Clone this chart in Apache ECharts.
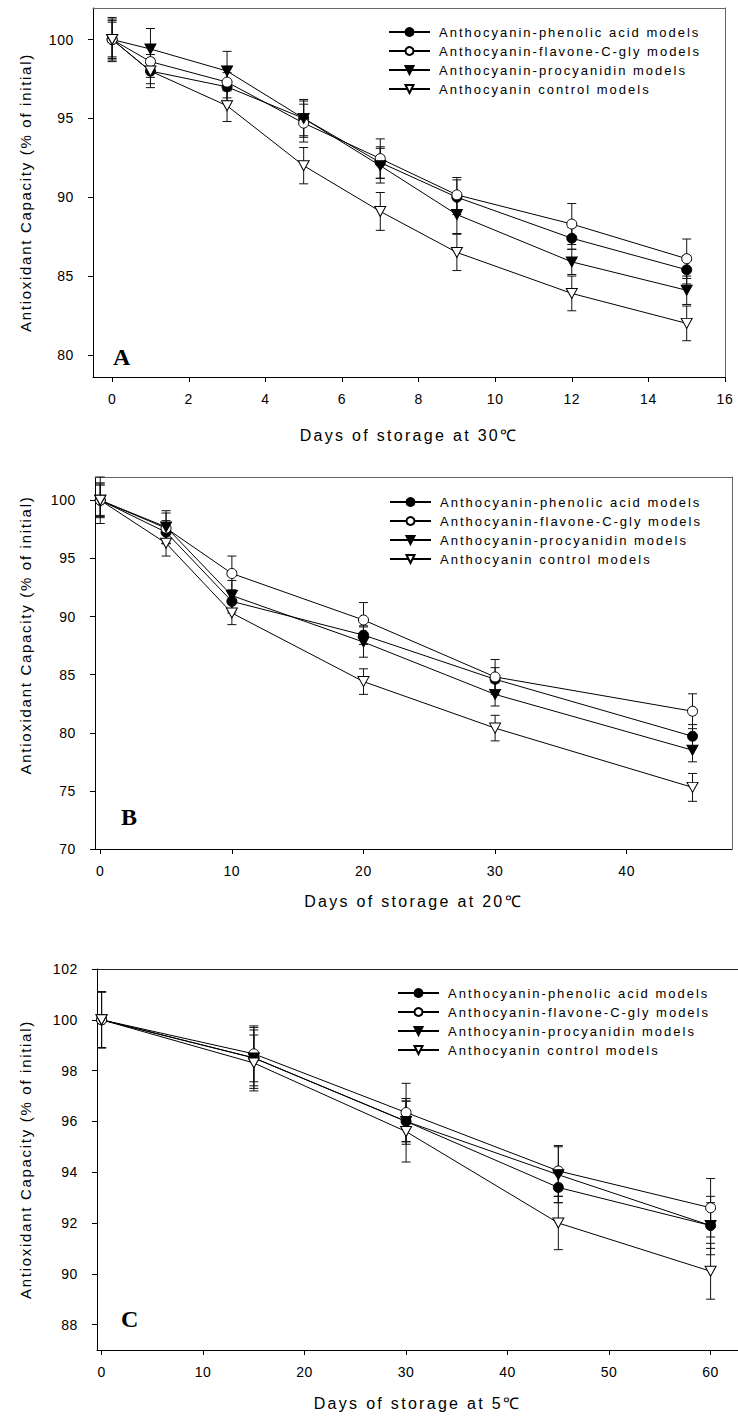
<!DOCTYPE html>
<html><head><meta charset="utf-8">
<script src="https://cdn.jsdelivr.net/npm/echarts@6/dist/echarts.min.js"></script>
<style>
html,body{margin:0;padding:0;background:#fff}
#c{width:738px;height:1416px}
#c text[style*="13px"]{letter-spacing:2px}
#c text[style*="14px"]{letter-spacing:0.6px}
#c text[style*="15px"]{letter-spacing:1.7px}
#c text[style*="16px"]{letter-spacing:2.3px}
</style></head><body><div id="c"></div>
<script>
// ---------- data ----------
const seriesNames = ['Anthocyanin-phenolic acid models','Anthocyanin-flavone-C-gly models','Anthocyanin-procyanidin models','Anthocyanin control models'];
const panelLetters = ['A','B','C'];
const xTitles = ['Days of storage at 30\u2103','Days of storage at 20\u2103','Days of storage at 5\u2103'];
const yTitle = 'Antioxidant Capacity (% of initial)';

// Panel A (30 C)
const daysA = [0,1,3,5,7,9,12,15];
const phenolicA    = [100,98.0,97.0,95.0,92.2,90.0,87.4,85.4];
const flavoneA     = [100,98.6,97.3,94.7,92.45,90.15,88.3,86.1];
const procyanidinA = [100,99.4,98.0,95.0,92.0,88.9,85.9,84.1];
const controlA     = [100,98.0,95.8,92.0,89.1,86.5,83.9,82.0];
const errPhenolicA    = [1.2,0.8,0.9,1.1,1.0,1.1,0.7,0.9];
const errFlavoneA     = [1.3,1.0,1.0,1.2,1.25,1.1,1.3,1.25];
const errProcyanidinA = [1.4,1.3,1.25,1.2,1.1,1.2,0.8,0.9];
const errControlA     = [1.1,1.05,1.0,1.15,1.2,1.15,1.1,1.1];
const xTicksA = [0,2,4,6,8,10,12,14,16];
const yTicksA = [80,85,90,95,100];

// Panel B (20 C)
const daysB = [0,5,10,20,30,45];
const phenolicB    = [100,97.25,91.3,88.4,84.6,79.7];
const flavoneB     = [100,97.6,93.7,89.7,84.8,81.85];
const procyanidinB = [100,97.7,91.8,87.8,83.3,78.5];
const controlB     = [100,96.3,90.3,84.4,80.4,75.3];
const errPhenolicB    = [1.4,1.0,1.0,0.8,1.0,1.0];
const errFlavoneB     = [1.3,1.3,1.5,1.5,1.5,1.5];
const errProcyanidinB = [1.5,1.4,1.3,1.3,1.0,1.0];
const errControlB     = [2.0,1.1,1.0,1.1,1.1,1.2];
const xTicksB = [0,10,20,30,40];
const yTicksB = [70,75,80,85,90,95,100];

// Panel C (5 C)
const daysC = [0,15,30,45,60];
const phenolicC    = [100,98.5,96.0,93.4,91.9];
const flavoneC     = [100,98.66,96.35,94.05,92.6];
const procyanidinC = [100,98.5,96.0,93.9,91.9];
const controlC     = [100,98.3,95.6,92.0,90.1];
const errPhenolicC    = [1.1,1.1,0.8,0.6,0.9];
const errFlavoneC     = [1.1,1.1,1.15,1.0,1.15];
const errProcyanidinC = [1.1,1.2,0.9,1.1,1.15];
const errControlC     = [1.1,1.1,1.2,1.05,1.1];
const xTicksC = [0,10,20,30,40,50,60];
const yTicksC = [88,90,92,94,96,98,100,102];

// ---------- layout / style ----------
const panels = [
  {days:daysA, vals:[phenolicA,flavoneA,procyanidinA,controlA], errs:[errPhenolicA,errFlavoneA,errProcyanidinA,errControlA],
   xTicks:xTicksA, yTicks:yTicksA, xMin:-0.5, xMax:16, yMin:78.6, yMax:102,
   grid:{left:93, top:8, width:632, height:369}, rightFrame:true, frameColor:'#666',
   legend:{left:388, top:25}, letter:{x:113, y:357}, xNameGap:50, yNameGap:60, yNamePad:0},
  {days:daysB, vals:[phenolicB,flavoneB,procyanidinB,controlB], errs:[errPhenolicB,errFlavoneB,errProcyanidinB,errControlB],
   xTicks:xTicksB, yTicks:yTicksB, xMin:-0.4, xMax:48, yMin:70, yMax:102,
   grid:{left:95, top:477, width:637, height:372}, rightFrame:true, frameColor:'#666',
   legend:{left:389, top:495}, letter:{x:121, y:817}, xNameGap:44, yNameGap:62, yNamePad:56},
  {days:daysC, vals:[phenolicC,flavoneC,procyanidinC,controlC], errs:[errPhenolicC,errFlavoneC,errProcyanidinC,errControlC],
   xTicks:xTicksC, yTicks:yTicksC, xMin:-0.45, xMax:62.7, yMin:87, yMax:102,
   grid:{left:97, top:969, width:641, height:381}, rightFrame:false, frameColor:'#222',
   legend:{left:397, top:986}, letter:{x:121, y:1319}, xNameGap:45, yNameGap:64, yNamePad:0}
];

const symbols = [
  {symbol:'circle', rotate:0, fill:'#000', size:10},
  {symbol:'circle', rotate:0, fill:'#fff', size:10},
  {symbol:'triangle', rotate:180, fill:'#000', size:[11,10]},
  {symbol:'triangle', rotate:180, fill:'#fff', size:[11,10]}
];

const FONT = 'Liberation Sans, Arial, Helvetica, sans-serif';

function errRender(params, api){
  const x = api.value(0), lo = api.value(1), hi = api.value(2);
  const p1 = api.coord([x, hi]), p2 = api.coord([x, lo]);
  const w = 4.5;
  const style = {stroke:'#111', lineWidth:1, fill:null};
  return {type:'group', children:[
    {type:'line', shape:{x1:p1[0],y1:p1[1],x2:p2[0],y2:p2[1]}, style:style},
    {type:'line', shape:{x1:p1[0]-w,y1:p1[1],x2:p1[0]+w,y2:p1[1]}, style:style},
    {type:'line', shape:{x1:p2[0]-w,y1:p2[1],x2:p2[0]+w,y2:p2[1]}, style:style}
  ]};
}

const grid = [], xAxis = [], yAxis = [], series = [], legend = [], graphic = [];
panels.forEach((p, i) => {
  grid.push(Object.assign({containLabel:false}, p.grid));
  xAxis.push({
    gridIndex:i, type:'value', min:p.xMin, max:p.xMax, position:'bottom',
    name:xTitles[i], nameLocation:'middle', nameGap:p.xNameGap,
    nameTextStyle:{fontSize:16, color:'#000', fontFamily:FONT},
    axisLine:{show:true, onZero:false, lineStyle:{color:'#000', width:1}},
    axisTick:{show:true, length:5, customValues:p.xTicks, lineStyle:{color:'#000'}},
    axisLabel:{show:true, customValues:p.xTicks, margin:15, fontSize:14, color:'#000', fontFamily:FONT},
    splitLine:{show:false}
  });
  xAxis.push({
    gridIndex:i, type:'value', min:p.xMin, max:p.xMax, position:'top',
    axisLine:{show:true, onZero:false, lineStyle:{color:p.frameColor, width:1}},
    axisTick:{show:false}, axisLabel:{show:false}, splitLine:{show:false}
  });
  yAxis.push({
    gridIndex:i, type:'value', min:p.yMin, max:p.yMax, position:'left',
    name:yTitle, nameLocation:'middle', nameGap:p.yNameGap, nameRotate:90,
    nameTextStyle:{fontSize:15, color:'#000', fontFamily:FONT, padding:[0,0,0,p.yNamePad]},
    axisLine:{show:true, onZero:false, lineStyle:{color:'#000', width:1}},
    axisTick:{show:true, length:5, customValues:p.yTicks, lineStyle:{color:'#000'}},
    axisLabel:{show:true, customValues:p.yTicks, margin:19, fontSize:14, color:'#000', fontFamily:FONT},
    splitLine:{show:false}
  });
  yAxis.push({
    gridIndex:i, type:'value', min:p.yMin, max:p.yMax, position:'right',
    axisLine:{show:p.rightFrame, onZero:false, lineStyle:{color:p.frameColor, width:1}},
    axisTick:{show:false}, axisLabel:{show:false}, splitLine:{show:false}
  });
  seriesNames.forEach((nm, g) => {
    const vals = p.vals[g], errs = p.errs[g];
    series.push({
      type:'custom', xAxisIndex:i*2, yAxisIndex:i*2, silent:true, z:2,
      encode:{x:0, y:[1,2]},
      data:p.days.map((d,k) => [d, vals[k]-errs[k], vals[k]+errs[k]]),
      renderItem:errRender
    });
  });
  seriesNames.forEach((nm, g) => {
    const s = symbols[g], vals = p.vals[g];
    series.push({
      name:nm, type:'line', xAxisIndex:i*2, yAxisIndex:i*2, z:3,
      data:p.days.map((d,k) => [d, vals[k]]),
      symbol:s.symbol, symbolSize:s.size, symbolRotate:s.rotate, showAllSymbol:true,
      itemStyle:{color:s.fill, borderColor:'#000', borderWidth:1},
      lineStyle:{color:'#000', width:1},
      emphasis:{disabled:true}
    });
  });
  legend.push({
    data:seriesNames, orient:'vertical', left:p.legend.left, top:p.legend.top,
    padding:0, itemWidth:41, itemHeight:10, itemGap:5, selectedMode:false,
    textStyle:{fontSize:13, color:'#000', fontFamily:FONT, lineHeight:14, padding:[0,0,0,4]}
  });
  graphic.push({
    type:'text', left:p.letter.x, top:p.letter.y - 12,
    style:{text:panelLetters[i], font:'bold 24px "Liberation Serif", "Times New Roman", serif', fill:'#000'}
  });
});

const chart = echarts.init(document.getElementById('c'), null, {renderer:'svg'});
chart.setOption({
  animation:false,
  backgroundColor:'#fff',
  grid, xAxis, yAxis, series, legend, graphic
});
</script></body></html>
